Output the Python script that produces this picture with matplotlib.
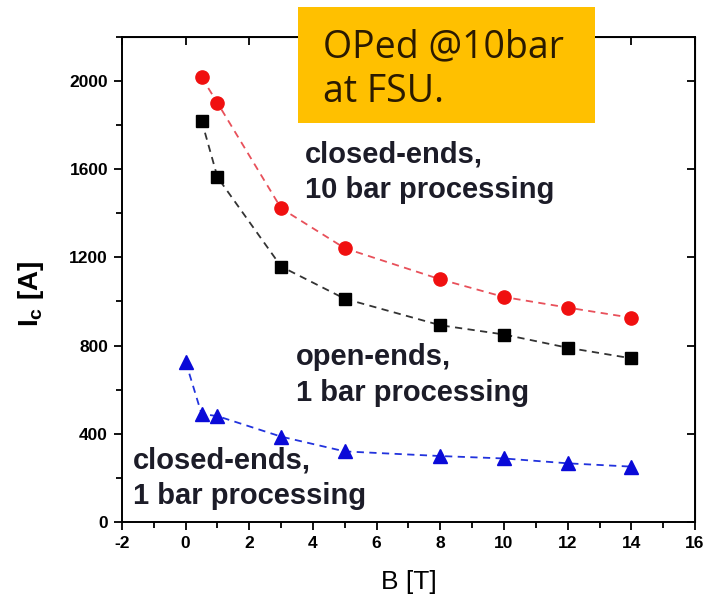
import matplotlib
matplotlib.use("Agg")
import matplotlib.pyplot as plt
from matplotlib.patches import Rectangle
from matplotlib.ticker import MultipleLocator

plt.rcParams['font.family'] = ['Liberation Sans', 'DejaVu Sans']
plt.rcParams['axes.unicode_minus'] = False

# Field (T) and critical current (A) for three sample treatments
b_closed10 = [0.5, 1, 3, 5, 8, 10, 12, 14]
ic_closed10 = [2016, 1900, 1422, 1241, 1100, 1020, 972, 926]

b_open1 = [0.5, 1, 3, 5, 8, 10, 12, 14]
ic_open1 = [1820, 1563, 1158, 1012, 892, 850, 790, 742]

b_closed1 = [0, 0.5, 1, 3, 5, 8, 10, 12, 14]
ic_closed1 = [727, 490, 480, 387, 320, 299, 288, 266, 251]

x_ticks = [-2, 0, 2, 4, 6, 8, 10, 12, 14, 16]
y_ticks = [0, 400, 800, 1200, 1600, 2000]

fig = plt.figure(figsize=(7.10, 5.98), dpi=100)
ax = fig.add_axes([0.1718, 0.1271, 0.8071, 0.8115])

dash = (0, (4, 3))
ax.plot(b_closed10, ic_closed10, linestyle=dash, color='#e8505a', lw=1.3, zorder=2)
ax.plot(b_closed10, ic_closed10, 'o', color='#f01010', ms=9.5, mec='#f01010', zorder=3)

ax.plot(b_open1, ic_open1, linestyle=dash, color='#333333', lw=1.3, zorder=2)
ax.plot(b_open1, ic_open1, 's', color='black', ms=9, zorder=3)

ax.plot(b_closed1, ic_closed1, linestyle=dash, color='#2233dd', lw=1.3, zorder=2)
ax.plot(b_closed1, ic_closed1, '^', color='#0a0ad8', ms=9.5, zorder=3)

ax.set_xlim(-2, 16)
ax.set_ylim(0, 2200)
ax.set_xticks(x_ticks)
ax.set_yticks(y_ticks)
ax.xaxis.set_minor_locator(MultipleLocator(1))
ax.yaxis.set_minor_locator(MultipleLocator(200))
ax.tick_params(which='both', direction='out', width=1.3, labelsize=12.5, pad=4)
ax.tick_params(which='major', length=6)
ax.tick_params(which='minor', length=4)
for lab in ax.get_xticklabels() + ax.get_yticklabels():
    lab.set_fontweight('bold')
for sp in ax.spines.values():
    sp.set_linewidth(1.4)

# inward ticks on top and right frame edges
top = ax.secondary_xaxis('top')
top.set_xticks(x_ticks)
top.tick_params(direction='in', length=6, width=1.3, labeltop=False)
right = ax.secondary_yaxis('right')
right.set_yticks(y_ticks)
right.tick_params(direction='in', length=6, width=1.3, labelright=False)

ax.set_xlabel('B [T]', fontsize=19, labelpad=14)
ax.set_ylabel(r'I$_\mathregular{c}$ [A]', fontsize=20, fontweight='bold')
ax.yaxis.set_label_coords(-0.132, 0.47)

txt_kw = dict(fontsize=21, fontweight='bold', color='#1c1c28', va='top', ha='left',
              linespacing=1.33)
ax.text(3.75, 1730, 'closed-ends,\n10 bar processing', **txt_kw)
ax.text(3.47, 810, 'open-ends,\n1 bar processing', **txt_kw)
ax.text(-1.66, 340, 'closed-ends,\n1 bar processing', **txt_kw)

# highlighted note box above the frame
fig.patches.append(Rectangle((298 / 710, 1 - 123 / 598), 297 / 710, 116 / 598,
                             transform=fig.transFigure, facecolor='#ffc000',
                             edgecolor='none', zorder=5))
note_kw = dict(fontsize=27, family='Open Sans', color='#2a1a00', va='baseline',
               ha='left', zorder=6)
fig.text(323 / 710, 1 - 57 / 598, 'OPed @10bar', **note_kw)
fig.text(323 / 710, 1 - 102 / 598, 'at FSU.', **note_kw)

fig.savefig('out.png', dpi=100)
